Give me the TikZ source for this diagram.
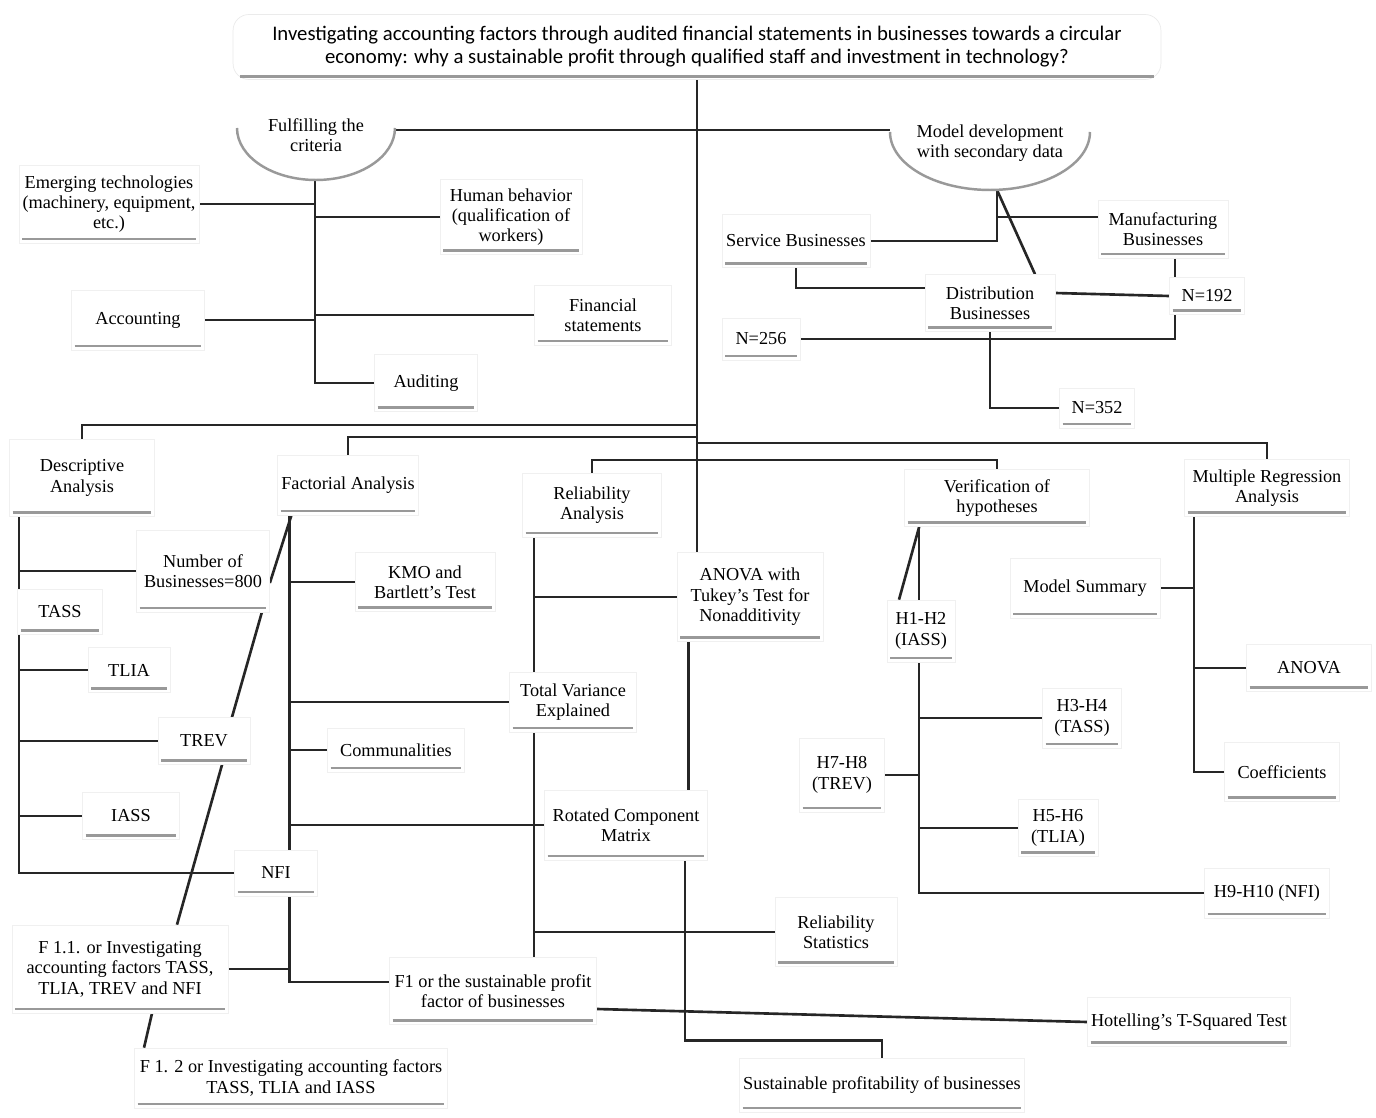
\documentclass[tikz,border=0pt]{standalone}
\usepackage{fontspec}
\setmainfont{Liberation Serif}
\newfontfamily\titlefont{Carlito}
\usetikzlibrary{backgrounds}
\pgfdeclarelayer{paper}
\pgfsetlayers{paper,background,main}

\begin{document}
\begin{tikzpicture}[x=0.02cm, y=-0.02cm,
  box/.style  ={rectangle, draw=black!6, fill=white,
                align=center, inner sep=2pt,
                font=\fontsize{10.4}{11.6}\selectfont,
                append after command={([xshift=2pt,yshift=2.5pt]\tikzlastnode.south west)
                  edge[draw=black!40, line width=1.5pt]
                  ([xshift=-2pt,yshift=2.5pt]\tikzlastnode.south east)}},
  ttl/.style  ={rectangle, rounded corners=9pt, draw=black!8, fill=white,
                align=center, font=\titlefont\fontsize{11.8}{13}\selectfont,
                append after command={([xshift=4pt,yshift=2pt]\tikzlastnode.south west)
                  edge[draw=black!40, line width=1.5pt]
                  ([xshift=-4pt,yshift=2pt]\tikzlastnode.south east)}},
  btxt/.style ={align=center, font=\fontsize{10.4}{11.6}\selectfont},
  sz/.style 2 args={minimum width=#1cm, minimum height=#2cm},
  bowl/.style ={draw=black!40, line width=1.4pt},
  ln/.style   ={line width=1.5pt, black!85},
]
\useasboundingbox (0,0) rectangle (1376,1118);
\begin{pgfonlayer}{paper}
  \fill[white] (0,0) rectangle (1376,1118);
\end{pgfonlayer}

%% ═══════════════ TITLE ═══════════════
\node[ttl, sz={18.56}{1.30}] (T) at (697,47)
  {Investigating accounting factors through audited financial statements in businesses towards a circular\\
   economy: why a sustainable profit through qualified staff and investment in technology?};

%% ═══════════════ CRITERIA (upper left) ═══════════════
\node[btxt] (FC) at (316,135) {Fulfilling the\\criteria};
\draw[bowl] (237,128) arc[start angle=180, end angle=360, x radius=1.58cm, y radius=1.04cm];
\coordinate (FCe) at (395,130);
\coordinate (FCb) at (315,180);

\node[box, sz={3.56}{1.56}] (ET) at (109,204) {Emerging technologies\\(machinery, equipment,\\etc.)};
\node[box, sz={2.84}{1.50}] (HB) at (511,217) {Human behavior\\(qualification of\\workers)};
\node[box, sz={2.66}{1.20}] (AC) at (138,320) {Accounting};
\node[box, sz={2.74}{1.20}] (FS) at (603,315) {Financial\\statements};
\node[box, sz={2.06}{1.14}] (AU) at (426,383) {Auditing};

%% ═══════════════ SECONDARY DATA (upper right) ═══════════════
\node[btxt] (MD) at (990,143) {Model development\\with secondary data};
\draw[bowl] (890,132) arc[start angle=180, end angle=360, x radius=2.0cm, y radius=1.16cm];
\coordinate (MDw) at (890,130);
\coordinate (MDb) at (997,190);

\node[box, sz={2.96}{1.06}] (SB)   at (796,241)  {Service Businesses};
\node[box, sz={2.60}{1.16}] (MB)   at (1163,229) {Manufacturing\\Businesses};
\node[box, sz={2.60}{1.14}] (DB)   at (990,303)  {Distribution\\Businesses};
\node[box, sz={1.50}{0.74}] (N192) at (1207,296) {N=192};
\node[box, sz={1.56}{0.84}] (N256) at (761,339)  {N=256};
\node[box, sz={1.50}{0.80}] (N352) at (1097,408) {N=352};

%% ═══════════════ ANALYSES (middle row) ═══════════════
\node[box, sz={2.90}{1.54}] (DA) at (82,478)   {Descriptive\\Analysis};
\node[box, sz={2.80}{1.20}] (FA) at (348,485)  {Factorial Analysis};
\node[box, sz={2.78}{1.28}] (RA) at (592,505)  {Reliability\\Analysis};
\node[box, sz={3.70}{1.14}] (VH) at (997,498)  {Verification of\\hypotheses};
\node[box, sz={3.30}{1.14}] (MR) at (1267,488) {Multiple Regression\\Analysis};

% descriptive
\node[box, sz={2.66}{1.64}] (NB) at (203,571) {Number of\\Businesses=800};
\node[box, sz={1.70}{0.90}] (DT) at (60,612)  {TASS};
\node[box, sz={1.64}{0.90}] (DL) at (129,670) {TLIA};
\node[box, sz={1.84}{0.94}] (DR) at (204,741) {TREV};
\node[box, sz={1.94}{0.94}] (DI) at (131,816) {IASS};
\node[box, sz={1.66}{0.92}] (DN) at (276,873) {NFI};

% factorial / reliability
\node[box, sz={2.80}{1.18}] (KB) at (425,582) {KMO and\\Bartlett's Test};
\node[box, sz={2.92}{1.78}] (AT) at (750,597) {ANOVA with\\Tukey's Test for\\Nonadditivity};
\node[box, sz={2.54}{1.20}] (TV) at (573,702) {Total Variance\\Explained};
\node[box, sz={2.74}{0.88}] (CO) at (396,750) {Communalities};
\node[box, sz={3.26}{1.40}] (RC) at (626,825) {Rotated Component\\Matrix};
\node[box, sz={2.44}{1.38}] (RS) at (836,932) {Reliability\\Statistics};

% factors
\node[box, sz={4.32}{1.76}] (F11) at (120,969)  {F 1.1. or Investigating\\accounting factors TASS,\\TLIA, TREV and NFI};
\node[box, sz={4.14}{1.34}] (F1)  at (493,991)  {F1 or the sustainable profit\\factor of businesses};
\node[box, sz={6.26}{1.20}] (F12) at (291,1078) {F 1. 2 or Investigating accounting factors\\TASS, TLIA and IASS};
\node[box, sz={5.70}{1.08}] (SP)  at (882,1085) {Sustainable profitability of businesses};
\node[box, sz={4.04}{0.98}] (HT)  at (1189,1022) {Hotelling's T-Squared Test};

% hypotheses
\node[box, sz={1.36}{1.24}] (H12)  at (921,631)  {H1-H2\\(IASS)};
\node[box, sz={1.58}{1.20}] (H34)  at (1082,718) {H3-H4\\(TASS)};
\node[box, sz={1.70}{1.48}] (H78)  at (842,775)  {H7-H8\\(TREV)};
\node[box, sz={1.60}{1.14}] (H56)  at (1058,828) {H5-H6\\(TLIA)};
\node[box, sz={2.50}{1.00}] (H910) at (1267,893) {H9-H10 (NFI)};

% regression
\node[box, sz={3.00}{1.20}] (MS) at (1085,588) {Model Summary};
\node[box, sz={2.50}{0.94}] (AN) at (1309,668) {ANOVA};
\node[box, sz={2.30}{1.18}] (CF) at (1282,772) {Coefficients};

%% ═══════════════ CONNECTORS ═══════════════
\coordinate (J1) at (697,425);
\coordinate (J2) at (697,437);
\coordinate (J3) at (697,443);
\coordinate (J4) at (697,460);
\coordinate (MBs)  at ([xshift=0.24cm]MB.south);
\coordinate (N192s) at ([xshift=-0.64cm]N192.south);
\coordinate (DAx) at ([xshift=0.2cm]DA.south west);
\coordinate (FAx) at ([xshift=0.24cm]FA.south west);
\coordinate (RAx) at ([xshift=0.24cm]RA.south west);
\coordinate (ATx) at ([xshift=0.24cm]AT.south west);
\coordinate (RCx) at ([xshift=1.18cm]RC.south);
\coordinate (SPn) at ([yshift=0.34cm]SP.north);
\coordinate (VHx) at ([xshift=0.3cm]VH.south west);
\coordinate (MRx) at ([xshift=0.2cm]MR.south west);

\begin{pgfonlayer}{background}
  % trunk
  \draw[ln] (T.south) -- (T.south |- AT.north);
  \draw[ln] (FCe) -- (MDw);

  % criteria
  \draw[ln] (FCb) |- (AU.west);
  \draw[ln] (ET.east) -- (ET.east -| FCb);
  \draw[ln] (AC.east) -- (AC.east -| FCb);
  \draw[ln] (HB.west -| FCb) -- (HB.west);
  \draw[ln] (FS.west -| FCb) -- (FS.west);

  % secondary data
  \draw[ln] (MDb) |- (SB.east);
  \draw[ln] ([yshift=0.24cm]MB.west) -- ++(-101,0);
  \draw[ln] (MDb) -- ([xshift=0.9cm]DB.north);
  \draw[ln] (SB.south) |- ([yshift=0.3cm]DB.west);
  \draw[ln] ([yshift=0.2cm]DB.east) -- (N192.west);
  \draw[ln] (MBs) -- (MBs |- N192.north);
  \draw[ln] (N256.east) -| (N192s);
  \draw[ln] (DB.south) |- (N352.west);

  % analyses
  \draw[ln] (J1) -| (DA.north);
  \draw[ln] (J2) -| (FA.north);
  \draw[ln] (J3) -| (MR.north);
  \draw[ln] (RA.north) |- (J4) -| (VH.north);

  % descriptive
  \draw[ln] (DAx) |- (DN.west);
  \foreach \n in {NB,DL,DR,DI}
    \draw[ln] (\n.west -| DAx) -- (\n.west);
  \draw[ln] ([xshift=0.28cm]FA.south west) -- ([yshift=-0.24cm]NB.east);
  \draw[ln] ([xshift=-0.16cm]NB.south east) -- ([xshift=0.56cm]DR.north);
  \draw[ln] ([xshift=0.36cm]DR.south) -- ([xshift=1.14cm]F11.north);

  % factorial
  \draw[ln] (FAx) |- ([yshift=0.18cm]F1.west);
  \foreach \n in {KB,TV,CO,RC}
    \draw[ln] (\n.west -| FAx) -- (\n.west);
  \draw[ln] (F11.east) -- (F11.east -| FAx);
  \draw[ln] ([xshift=0.64cm]F11.south) -- ([xshift=-2.94cm]F12.north);

  % reliability
  \draw[ln] (RAx) -- (RAx |- F1.north);
  \draw[ln] (AT.west -| RAx) -- (AT.west);
  \draw[ln] (RS.west -| RAx) -- (RS.west);
  \draw[ln] (ATx) -- (ATx |- RC.north);
  \draw[ln] (RCx) |- (SPn) -- (SP.north);
  \draw[ln] ([yshift=-0.36cm]F1.east) -- (HT.west);

  % hypotheses
  \draw[ln] (VHx) |- (H910.west);
  \draw[ln] (VHx) -- ([xshift=-0.44cm]H12.north);
  \draw[ln] (H34.west -| VHx) -- (H34.west);
  \draw[ln] (H56.west -| VHx) -- (H56.west);
  \draw[ln] (H78.east) -- (H78.east -| VHx);

  % regression
  \draw[ln] (MRx) |- (CF.west);
  \draw[ln] (MS.east) -- (MS.east -| MRx);
  \draw[ln] (AN.west -| MRx) -- (AN.west);
\end{pgfonlayer}

\end{tikzpicture}
\end{document}
